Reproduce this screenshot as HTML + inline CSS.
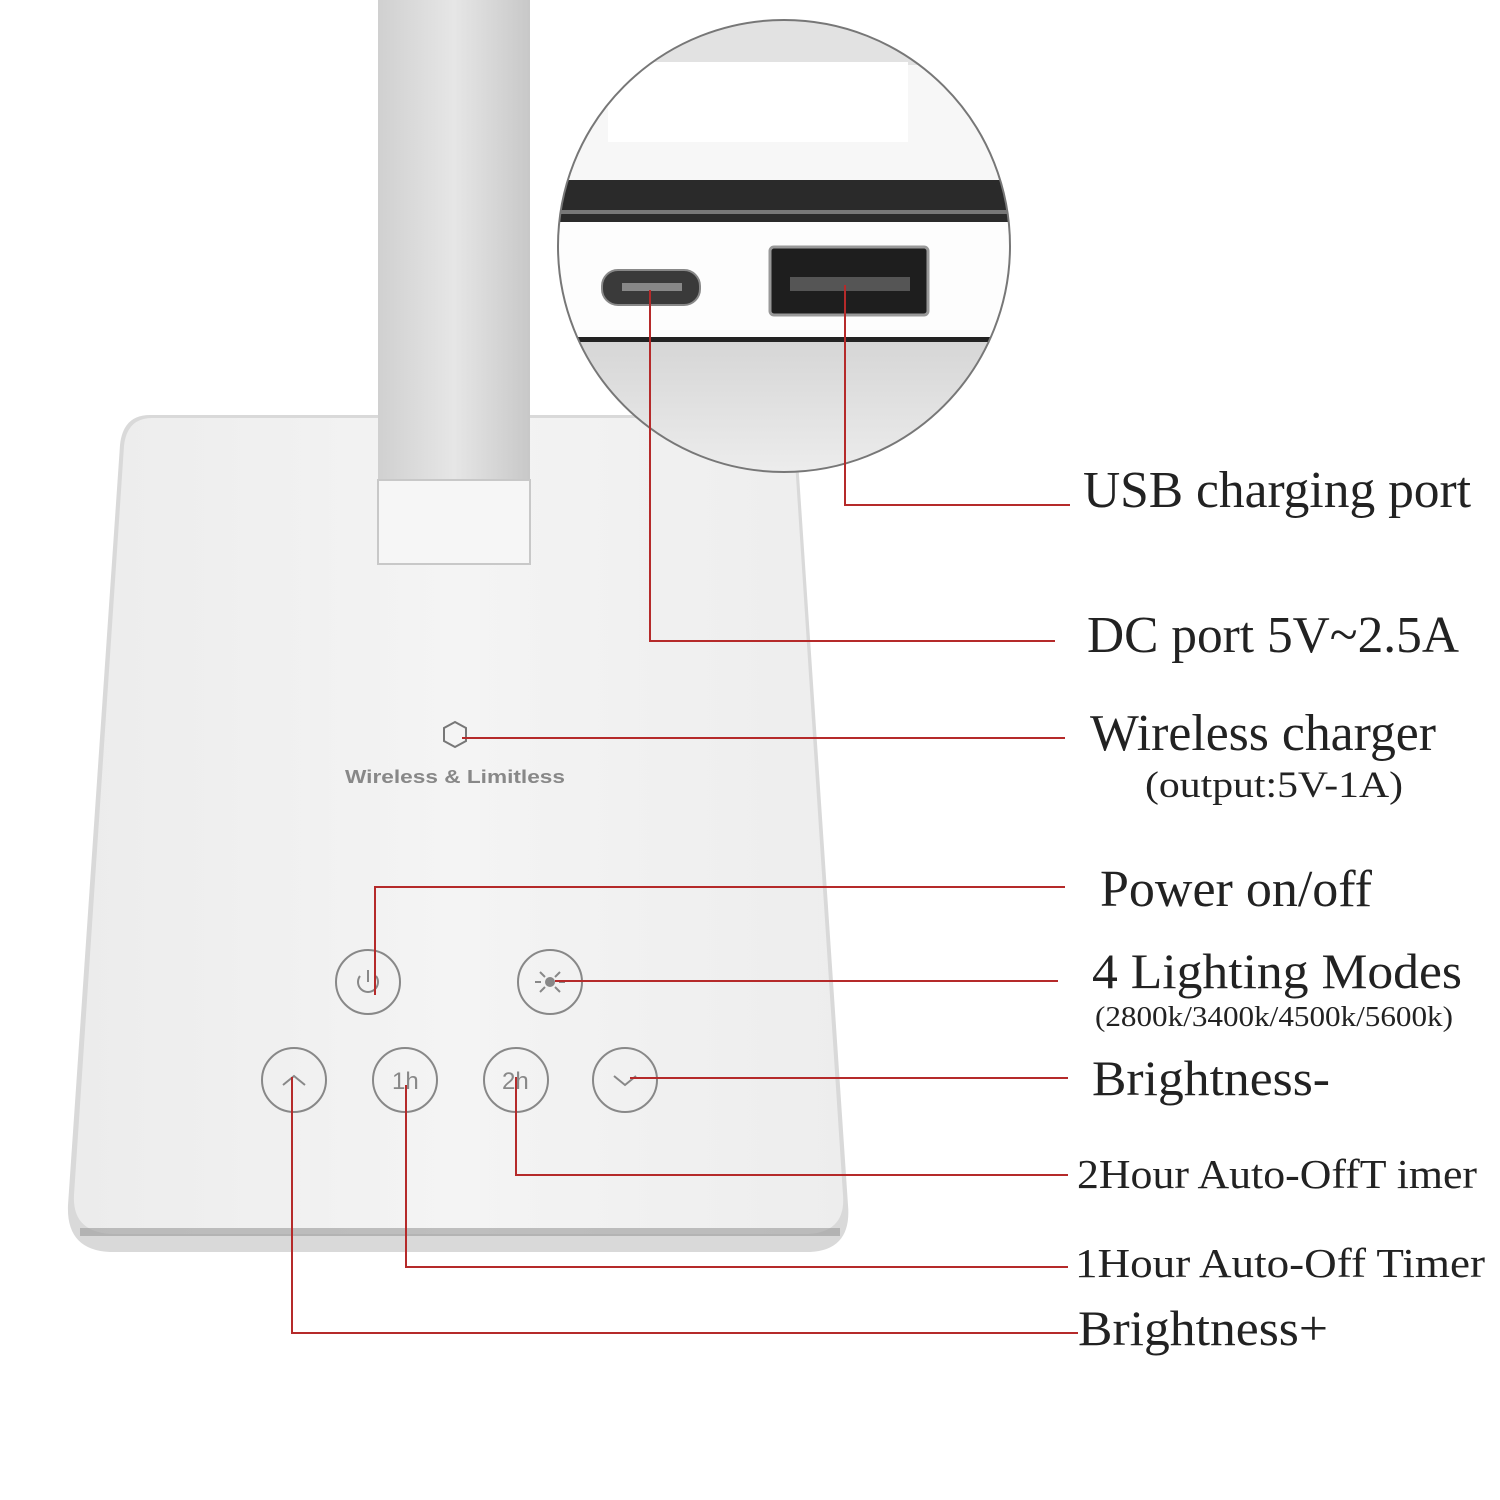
<!DOCTYPE html>
<html><head><meta charset="utf-8"><style>
html,body{margin:0;padding:0;background:#fff;}
svg{display:block;}
.l{font-family:"Liberation Serif",serif;fill:#222;}
</style></head><body>
<svg width="1500" height="1500" viewBox="0 0 1500 1500" xmlns="http://www.w3.org/2000/svg">
<defs>
<linearGradient id="arm" x1="0" x2="1">
<stop offset="0" stop-color="#d0d0d0"/><stop offset="0.5" stop-color="#e6e6e6"/><stop offset="1" stop-color="#c8c8c8"/>
</linearGradient>
<linearGradient id="base" x1="0" x2="1">
<stop offset="0" stop-color="#ececec"/><stop offset="0.5" stop-color="#f4f4f4"/><stop offset="1" stop-color="#ededed"/>
</linearGradient>
<linearGradient id="low" x1="0" y1="0" x2="0" y2="1">
<stop offset="0" stop-color="#d6d6d6"/><stop offset="1" stop-color="#eeeeee"/>
</linearGradient>
<clipPath id="cc"><circle cx="784" cy="246" r="226"/></clipPath>
</defs>
<path d="M150 415 L770 415 Q795 415 797 445 L848 1205 Q852 1250 810 1252 L110 1252 Q66 1250 68 1205 L120 445 Q123 415 150 415 Z" fill="#d9d9d9"/>
<path d="M152 418 L768 418 Q792 418 794 446 L843 1195 Q846 1232 808 1234 L112 1234 Q72 1232 74 1195 L124 446 Q127 418 152 418 Z" fill="url(#base)"/>
<rect x="80" y="1228" width="760" height="8" fill="#9a9a9a" opacity="0.6"/>
<rect x="378" y="0" width="152" height="480" fill="url(#arm)"/>
<rect x="378" y="480" width="152" height="84" fill="#f6f6f6" stroke="#c8c8c8" stroke-width="2"/>
<g clip-path="url(#cc)">
<rect x="550" y="0" width="480" height="480" fill="#f7f7f7"/>
<rect x="550" y="0" width="480" height="65" fill="#e2e2e2"/>
<rect x="608" y="62" width="300" height="80" fill="#fff"/>
<rect x="550" y="180" width="480" height="42" fill="#2a2a2a"/>
<rect x="550" y="210" width="480" height="4" fill="#777"/>
<rect x="550" y="222" width="480" height="115" fill="#fdfdfd"/>
<rect x="550" y="337" width="480" height="5" fill="#222"/>
<rect x="550" y="342" width="480" height="140" fill="url(#low)"/>
<rect x="602" y="270" width="98" height="35" rx="16" fill="#3a3a3a" stroke="#888" stroke-width="2"/>
<rect x="622" y="283" width="60" height="8" fill="#888"/>
<rect x="770" y="247" width="158" height="68" rx="4" fill="#1e1e1e" stroke="#999" stroke-width="3"/>
<rect x="790" y="277" width="120" height="14" fill="#555"/>
</g>
<circle cx="784" cy="246" r="226" fill="none" stroke="#777" stroke-width="2"/>
<polygon points="455,722 466,728 466,741 455,747 444,741 444,728" fill="none" stroke="#777" stroke-width="2"/>
<text x="345" y="783" font-family="Liberation Sans,sans-serif" font-size="18" font-weight="bold" fill="#888" textLength="220" lengthAdjust="spacingAndGlyphs">Wireless &amp; Limitless</text>
<g fill="none" stroke="#888" stroke-width="2">
<circle cx="368" cy="982" r="32"/><circle cx="550" cy="982" r="32"/>
<circle cx="294" cy="1080" r="32"/><circle cx="405" cy="1080" r="32"/>
<circle cx="516" cy="1080" r="32"/><circle cx="625" cy="1080" r="32"/>
<path d="M360 976 A10 10 0 1 0 376 976 M368 970 L368 982"/>
<path d="M283 1085 L294 1076 L305 1085"/>
<path d="M614 1076 L625 1085 L636 1076"/>
<path d="M540 972 l5 5 M560 972 l-5 5 M540 992 l5 -5 M560 992 l-5 -5 M535 982 h6 M559 982 h6"/>
</g>
<circle cx="550" cy="982" r="5" fill="#888"/>
<text x="392" y="1089" font-family="Liberation Sans,sans-serif" font-size="24" fill="#888">1h</text>
<text x="502" y="1089" font-family="Liberation Sans,sans-serif" font-size="24" fill="#888">2h</text>
<g fill="none" stroke="#b52a2a" stroke-width="2">
<path d="M845 285 V505 H1070"/>
<path d="M650 290 V641 H1055"/>
<path d="M462 738 H1065"/>
<path d="M375 995 V887 H1065"/>
<path d="M555 981 H1058"/>
<path d="M630 1078 H1068"/>
<path d="M516 1077 V1175 H1068"/>
<path d="M406 1085 V1267 H1068"/>
<path d="M292 1077 V1333 H1078"/>
</g>
<g lengthAdjust="spacingAndGlyphs">
<text class="l" x="1083" y="507" font-size="52" textLength="388" lengthAdjust="spacingAndGlyphs">USB charging port</text>
<text class="l" x="1087" y="652" font-size="52" textLength="372" lengthAdjust="spacingAndGlyphs">DC port 5V~2.5A</text>
<text class="l" x="1090" y="750" font-size="52" textLength="346" lengthAdjust="spacingAndGlyphs">Wireless charger</text>
<text class="l" x="1145" y="797" font-size="37" textLength="258" lengthAdjust="spacingAndGlyphs">(output:5V-1A)</text>
<text class="l" x="1100" y="906" font-size="52" textLength="272" lengthAdjust="spacingAndGlyphs">Power on/off</text>
<text class="l" x="1092" y="988" font-size="50" textLength="370" lengthAdjust="spacingAndGlyphs">4 Lighting Modes</text>
<text class="l" x="1095" y="1026" font-size="28" textLength="358" lengthAdjust="spacingAndGlyphs">(2800k/3400k/4500k/5600k)</text>
<text class="l" x="1092" y="1095" font-size="50" textLength="238" lengthAdjust="spacingAndGlyphs">Brightness-</text>
<text class="l" x="1077" y="1188" font-size="41" textLength="400" lengthAdjust="spacingAndGlyphs">2Hour Auto-OffT imer</text>
<text class="l" x="1075" y="1277" font-size="41" textLength="410" lengthAdjust="spacingAndGlyphs">1Hour Auto-Off Timer</text>
<text class="l" x="1078" y="1345" font-size="50" textLength="250" lengthAdjust="spacingAndGlyphs">Brightness+</text>
</g>
</svg>
</body></html>
